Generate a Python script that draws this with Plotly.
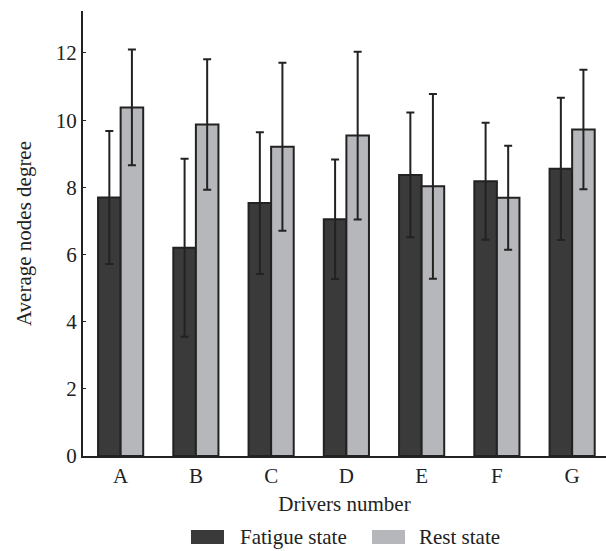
import plotly.graph_objects as go

drivers = ["A", "B", "C", "D", "E", "F", "G"]
fatigue = [7.70, 6.20, 7.53, 7.05, 8.37, 8.18, 8.55]
fatigue_err = [1.98, 2.65, 2.11, 1.78, 1.86, 1.74, 2.12]
rest = [10.38, 9.87, 9.21, 9.54, 8.03, 7.69, 9.72]
rest_err = [1.72, 1.94, 2.50, 2.50, 2.75, 1.55, 1.78]

dark = "#3a3a3a"
light = "#b6b7bb"
edge = "#222222"
font = "Liberation Serif"

fig = go.Figure()
fig.add_trace(go.Bar(
    x=drivers, y=fatigue, name="Fatigue state",
    marker=dict(color=dark, line=dict(color=edge, width=2)),
    error_y=dict(type="data", array=fatigue_err, color=edge, thickness=2, width=4),
))
fig.add_trace(go.Bar(
    x=drivers, y=rest, name="Rest state",
    marker=dict(color=light, line=dict(color=edge, width=2)),
    error_y=dict(type="data", array=rest_err, color=edge, thickness=2, width=4),
))

# manual legend (wide swatches)
legend_items = [("Fatigue state", dark, 191, 238), ("Rest state", light, 372, 417)]
W, H = 606, 551
shapes = []
annotations = []
for label, col, sx, tx in legend_items:
    shapes.append(dict(type="rect", xref="paper", yref="paper",
                       x0=(sx - 83) / (W - 83), x1=(sx + 33 - 83) / (W - 83),
                       y0=-(530 - 456) / 445, y1=-(544 - 456) / 445,
                       fillcolor=col, line=dict(width=0)))
    annotations.append(dict(text=label, xref="paper", yref="paper",
                            x=(tx - 83) / (W - 83), y=-(537 - 456) / 445,
                            xanchor="left", yanchor="middle", showarrow=False,
                            font=dict(family=font, size=21, color="#222")))

fig.update_layout(
    width=W, height=H,
    margin=dict(l=83, r=0, t=11, b=95),
    paper_bgcolor="white", plot_bgcolor="white",
    barmode="group", bargap=0.4, bargroupgap=0,
    showlegend=False,
    font=dict(family=font, size=21, color="#222"),
    shapes=shapes, annotations=annotations,
)
fig.update_xaxes(
    range=[-0.5, 6.45], showline=True, linecolor=edge, linewidth=2,
    ticks="", showgrid=False, zeroline=False,
    tickfont=dict(family=font, size=21, color="#222"),
    title=dict(text="Drivers number", font=dict(family=font, size=21, color="#222"), standoff=9),
)
fig.update_yaxes(
    range=[0, 13.25], showline=True, linecolor=edge, linewidth=2,
    ticks="inside", ticklen=3, tickwidth=1, tickcolor=edge,
    tickvals=[0, 2, 4, 6, 8, 10, 12], showgrid=False, zeroline=False,
    tickfont=dict(family=font, size=21, color="#222"),
    title=dict(text="Average nodes degree", font=dict(family=font, size=21, color="#222"), standoff=18),
)

fig.write_html("out.html")
